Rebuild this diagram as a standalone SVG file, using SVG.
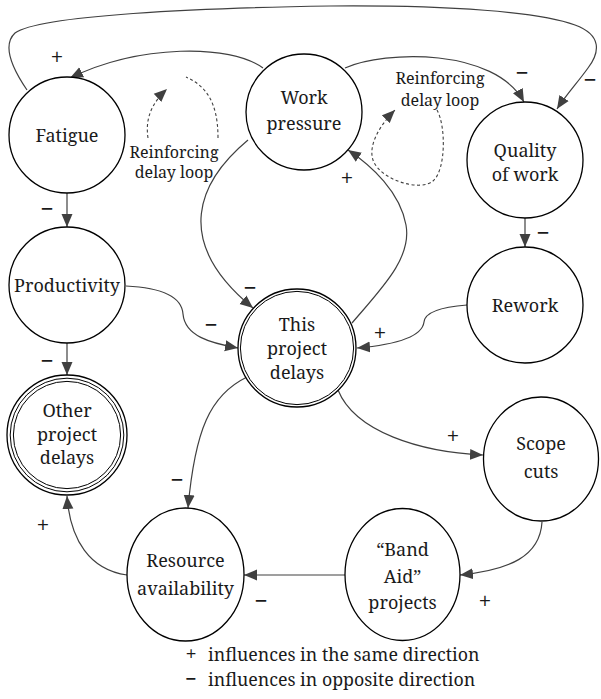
<svg xmlns="http://www.w3.org/2000/svg" width="601" height="699" viewBox="0 0 601 699">
<defs>
<marker id="arr" markerUnits="userSpaceOnUse" markerWidth="14" markerHeight="12" refX="13" refY="6" orient="auto">
<path d="M0,0.5 L13,6 L0,11.5 z" fill="#404040"/>
</marker>
<style>
.node{fill:#fff;stroke:#000;stroke-width:1.3}
.dbl{fill:none;stroke:#000;stroke-width:1}
text{font-family:"Noto Serif","Liberation Serif",serif;fill:#1a1a1a}
.lbl{font-size:18px;text-anchor:middle}
.note{font-size:16px;text-anchor:middle}
.sign{font-size:23px;text-anchor:middle}
.lsign{font-size:20px;text-anchor:middle}
.leg{font-size:17.8px}
.c{fill:none;stroke:#404040;stroke-width:1.2;marker-end:url(#arr)}
.d{fill:none;stroke:#404040;stroke-width:1.1;stroke-dasharray:3,2.5}
</style>
</defs>
<rect width="601" height="699" fill="#fff"/>

<g id="connectors">
<path class="c" d="M27,90 C12,68 2,45 15,33 C40,15 200,8 330,6 C450,5 540,12 575,25 C602,35 600,52 588,68 C578,82 566,95 557,109"/>
<path class="c" d="M263,68 C230,44 140,44 70,78"/>
<path class="c" d="M345,68 C385,50 495,48 524,102"/>
<path class="c" d="M67,193 L67,227"/>
<path class="c" d="M525,218 L525,247"/>
<path class="c" d="M67,343 L67,375"/>
<path class="c" d="M248,140 C200,180 170,240 253,308"/>
<path class="c" d="M126,286 C168,288 182,300 183,314 C185,336 210,343 238,348"/>
<path class="c" d="M352,323 C382,288 412,258 406,225 C400,192 372,166 348,150"/>
<path class="c" d="M467,305 C440,307 425,312 424,322 C422,338 392,345 357,348"/>
<path class="c" d="M338,390 C355,432 420,452 483,455"/>
<path class="c" d="M542,522 C540,556 510,570 460,575"/>
<path class="c" d="M345,575 L244,575"/>
<path class="c" d="M247,377 C210,395 195,430 188,508"/>
<path class="c" d="M127,575 C90,570 70,540 67,496"/>
<path class="d" d="M218,138 C218,102 206,86 186,77"/>
<path class="d" d="M148,138 C145,118 152,103 167,89" marker-end="url(#arr)"/>
<path class="d" d="M437,110 C446,126 446,170 433,181 C420,192 380,180 373,160 C368,145 380,125 395,110" marker-end="url(#arr)"/>
</g>

<g id="fatigue">
<circle class="node" cx="67" cy="135" r="58"/>
<text class="lbl" x="67" y="142">Fatigue</text>
</g>
<g id="work-pressure">
<circle class="node" cx="304" cy="112" r="58"/>
<text class="lbl" x="304" y="104">Work</text>
<text class="lbl" x="304" y="130">pressure</text>
</g>
<g id="quality-of-work">
<circle class="node" cx="525" cy="160" r="58"/>
<text class="lbl" x="525" y="157">Quality</text>
<text class="lbl" x="525" y="181">of work</text>
</g>
<g id="productivity">
<circle class="node" cx="67" cy="285" r="58"/>
<text class="lbl" x="67" y="292">Productivity</text>
</g>
<g id="rework">
<circle class="node" cx="525" cy="305" r="58"/>
<text class="lbl" x="525" y="312">Rework</text>
</g>
<g id="this-project-delays">
<circle class="node" cx="297" cy="348" r="59"/>
<circle class="dbl" cx="297" cy="348" r="56.6"/>
<text class="lbl" x="297" y="331">This</text>
<text class="lbl" x="297" y="355">project</text>
<text class="lbl" x="297" y="379">delays</text>
</g>
<g id="other-project-delays">
<circle class="node" cx="67" cy="435" r="60"/>
<circle class="dbl" cx="67" cy="435" r="56.8"/>
<circle class="dbl" cx="67" cy="435" r="53.6"/>
<text class="lbl" x="67" y="417">Other</text>
<text class="lbl" x="67" y="441">project</text>
<text class="lbl" x="67" y="464">delays</text>
</g>
<g id="scope-cuts">
<ellipse class="node" cx="541" cy="459" rx="57.5" ry="62"/>
<text class="lbl" x="541" y="450">Scope</text>
<text class="lbl" x="541" y="478">cuts</text>
</g>
<g id="band-aid-projects">
<ellipse class="node" cx="402.5" cy="574.5" rx="57.5" ry="66"/>
<text class="lbl" x="402.5" y="556">“Band</text>
<text class="lbl" x="402.5" y="583">Aid”</text>
<text class="lbl" x="402.5" y="609">projects</text>
</g>
<g id="resource-availability">
<ellipse class="node" cx="185.5" cy="574.5" rx="58.5" ry="66.5"/>
<text class="lbl" x="185.5" y="567">Resource</text>
<text class="lbl" x="185.5" y="595">availability</text>
</g>

<g id="loop-labels">
<text class="note" x="174" y="158">Reinforcing</text>
<text class="note" x="174" y="178">delay loop</text>
<text class="note" x="440" y="84">Reinforcing</text>
<text class="note" x="440" y="106">delay loop</text>
</g>

<g id="signs">
<text class="sign" x="57" y="65">+</text>
<text class="sign" x="47" y="217">−</text>
<text class="sign" x="522" y="81">−</text>
<text class="sign" x="590" y="88">−</text>
<text class="sign" x="347" y="186">+</text>
<text class="sign" x="543" y="241">−</text>
<text class="sign" x="250" y="296">−</text>
<text class="sign" x="211" y="333">−</text>
<text class="sign" x="47" y="369">−</text>
<text class="sign" x="380" y="341">+</text>
<text class="sign" x="453" y="444">+</text>
<text class="sign" x="177" y="488">−</text>
<text class="sign" x="43" y="533">+</text>
<text class="sign" x="261" y="609">−</text>
<text class="sign" x="485" y="609">+</text>
</g>

<g id="legend">
<text class="lsign" x="191" y="661">+</text>
<text class="leg" x="208" y="661">influences in the same direction</text>
<text class="lsign" x="191" y="686">−</text>
<text class="leg" x="208" y="686">influences in opposite direction</text>
</g>
</svg>
